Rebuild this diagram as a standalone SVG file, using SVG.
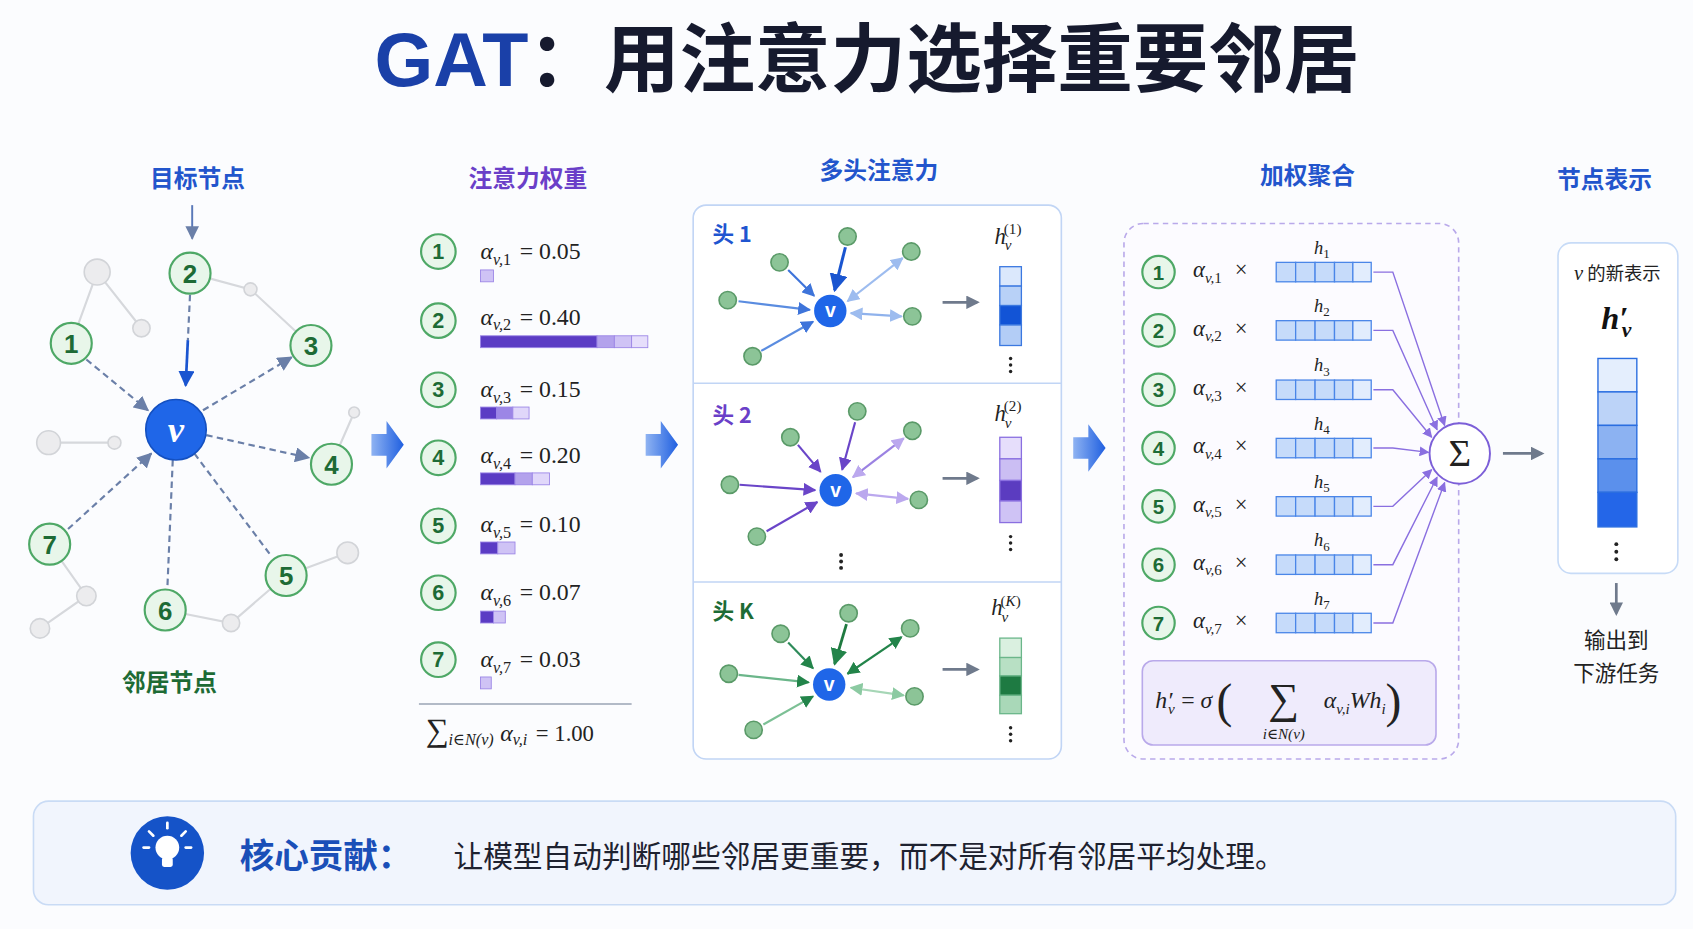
<svg xmlns="http://www.w3.org/2000/svg" width="1693" height="929" viewBox="0 0 1693 929">
<defs>
<style>
.cn{font-family:"Noto Sans CJK SC","Noto Sans",sans-serif}
.hd{font-family:"Noto Sans CJK SC",sans-serif;font-weight:700;font-size:22px;text-anchor:middle}
.m{font-family:"Liberation Serif","DejaVu Serif",serif;font-style:italic}
.r{font-family:"Liberation Serif","DejaVu Serif",serif;font-style:normal}
.gn{fill:#e8f6ea;stroke:#4ea866;stroke-width:2}
.gt{font-family:"Liberation Sans",Arial,sans-serif;font-weight:700;fill:#1d6b35;text-anchor:middle}
.gray{fill:#ececee;stroke:#d2d4d8;stroke-width:1.5}
.ge{stroke:#d6d8dc;stroke-width:2;fill:none}
.de{stroke:#6a7fa8;stroke-width:2;stroke-dasharray:6 4;fill:none}
.hn{fill:#8cc497;stroke:#5a9a68;stroke-width:1.5}
.pl{stroke:#8a6fe0;stroke-width:1.3;fill:none}
.vc{stroke:#4a86e8;stroke-width:1.2}
</style>
<marker id="ag" viewBox="0 0 10 10" refX="9" refY="5" markerWidth="7" markerHeight="7" orient="auto-start-reverse"><path d="M0,0L10,5L0,10z" fill="#6a7fa8"/></marker>
<marker id="ab" viewBox="0 0 10 10" refX="9" refY="5" markerWidth="6" markerHeight="6" orient="auto-start-reverse"><path d="M0,0L10,5L0,10z" fill="#1a55d0"/></marker>
<marker id="a1" viewBox="0 0 10 10" refX="9" refY="5" markerWidth="6" markerHeight="6" orient="auto-start-reverse"><path d="M0,0L10,5L0,10z" fill="#3e74da"/></marker>
<marker id="a1l" viewBox="0 0 10 10" refX="9" refY="5" markerWidth="6" markerHeight="6" orient="auto-start-reverse"><path d="M0,0L10,5L0,10z" fill="#9dbcef"/></marker>
<marker id="a2" viewBox="0 0 10 10" refX="9" refY="5" markerWidth="6" markerHeight="6" orient="auto-start-reverse"><path d="M0,0L10,5L0,10z" fill="#6a45c8"/></marker>
<marker id="a2l" viewBox="0 0 10 10" refX="9" refY="5" markerWidth="6" markerHeight="6" orient="auto-start-reverse"><path d="M0,0L10,5L0,10z" fill="#bba8ee"/></marker>
<marker id="a3" viewBox="0 0 10 10" refX="9" refY="5" markerWidth="6" markerHeight="6" orient="auto-start-reverse"><path d="M0,0L10,5L0,10z" fill="#23844a"/></marker>
<marker id="a3l" viewBox="0 0 10 10" refX="9" refY="5" markerWidth="6" markerHeight="6" orient="auto-start-reverse"><path d="M0,0L10,5L0,10z" fill="#8ccaa2"/></marker>
<marker id="ap" viewBox="0 0 10 10" refX="9" refY="5" markerWidth="7" markerHeight="7" orient="auto"><path d="M0,0L10,5L0,10z" fill="#8a6fe0"/></marker>
<marker id="gy" viewBox="0 0 10 10" refX="8" refY="5" markerWidth="5" markerHeight="5" orient="auto"><path d="M0,0L10,5L0,10z" fill="#6f7a8c"/></marker>
<linearGradient id="bg" x1="0" x2="1"><stop offset="0" stop-color="#8fb3f2"/><stop offset="1" stop-color="#1f5fe0"/></linearGradient>
</defs>
<rect width="1693" height="929" fill="#fbfcfe"/>
<g transform="scale(1.0797)">
<g id="title"><text x="803" y="80" text-anchor="middle" font-size="70" font-weight="700" class="cn" fill="#161a2e"><tspan fill="#1a40a8" font-family="'Liberation Sans',sans-serif">GAT</tspan>：用注意力选择重要邻居</text></g>
<g id="headers">
<text x="183" y="173" class="hd" fill="#2255cc">目标节点</text>
<text x="489" y="173" class="hd" fill="#6a3fc8">注意力权重</text>
<text x="814" y="166" class="hd" fill="#2255cc">多头注意力</text>
<text x="1211" y="170" class="hd" fill="#2255cc">加权聚合</text>
<text x="1486" y="174" class="hd" fill="#2255cc">节点表示</text>
</g>
<g id="panels">
<rect x="642" y="190" width="341" height="513" rx="12" fill="#fff" stroke="#c1d5f5" stroke-width="1.5"/>
<line x1="642" y1="355" x2="983" y2="355" stroke="#c1d5f5" stroke-width="1.5"/>
<line x1="642" y1="539" x2="983" y2="539" stroke="#c1d5f5" stroke-width="1.5"/>
<rect x="1041" y="207" width="310" height="496" rx="18" fill="#fcfbff" stroke="#b9a9ea" stroke-width="1.5" stroke-dasharray="5 4"/>
</g>
<g id="connectors">
<path class="ge" d="M66,318L90,252L131,304M176,253L232,268L288,320M45,410L106,410M307,430L328,382M265,533L322,512M153,565L214,577L265,533M46,504L80,552L37,582"/>
<line class="de" x1="80" y1="333" x2="137" y2="380" marker-end="url(#ag)"/>
<line class="de" x1="188" y1="380" x2="270" y2="331" marker-end="url(#ag)"/>
<line class="de" x1="191" y1="403" x2="286" y2="424" marker-end="url(#ag)"/>
<line class="de" x1="63" y1="490" x2="140" y2="420"/>
<line class="de" x1="136" y1="424" x2="140" y2="420" marker-end="url(#ag)"/>
<line class="de" x1="180" y1="420" x2="252" y2="516"/>
<line class="de" x1="160" y1="426" x2="155" y2="545"/>
<line class="de" x1="176" y1="273" x2="174" y2="315"/>
<line x1="174" y1="315" x2="172" y2="357" stroke="#1a55d0" stroke-width="2.5" marker-end="url(#ab)"/>
<line x1="178" y1="190" x2="178" y2="221" stroke="#5a78b8" stroke-width="1.8" marker-end="url(#ag)"/>
<path d="M344,402h14v-12l16,22l-16,22v-12h-14z" fill="url(#bg)"/>
<path d="M598,402h14v-12l16,22l-16,22v-12h-14z" fill="url(#bg)"/>
<path d="M994,405h14v-12l16,22l-16,22v-12h-14z" fill="url(#bg)"/>
<line x1="873" y1="280" x2="905" y2="280" stroke="#6f7a8c" stroke-width="2.5" marker-end="url(#gy)"/>
<line x1="873" y1="443" x2="905" y2="443" stroke="#6f7a8c" stroke-width="2.5" marker-end="url(#gy)"/>
<line x1="873" y1="620" x2="905" y2="620" stroke="#6f7a8c" stroke-width="2.5" marker-end="url(#gy)"/>
<line x1="1392" y1="420" x2="1428" y2="420" stroke="#6f7a8c" stroke-width="2.5" marker-end="url(#gy)"/>
<line x1="1497" y1="540" x2="1497" y2="568" stroke="#6f7a8c" stroke-width="2.5" marker-end="url(#gy)"/>
<g stroke-width="2">
<line x1="684" y1="279" x2="750" y2="287" stroke="#5a8ce0" marker-end="url(#a1)"/>
<line x1="730" y1="250" x2="754" y2="274" stroke="#3e74da" marker-end="url(#a1)"/>
<line x1="783" y1="229" x2="773" y2="269" stroke="#1a55d0" stroke-width="2.8" marker-end="url(#ab)"/>
<line x1="785" y1="279" x2="836" y2="239" stroke="#9dbcef" marker-start="url(#a1l)" marker-end="url(#a1l)"/>
<line x1="788" y1="290" x2="835" y2="293" stroke="#8fb2ec" marker-start="url(#a1l)" marker-end="url(#a1l)"/>
<line x1="705" y1="325" x2="753" y2="298" stroke="#5a8ce0" marker-end="url(#a1)"/>
<line x1="685" y1="449" x2="755" y2="454" stroke="#6a45c8" marker-end="url(#a2)"/>
<line x1="739" y1="412" x2="760" y2="437" stroke="#6a45c8" marker-end="url(#a2)"/>
<line x1="792" y1="391" x2="780" y2="435" stroke="#6a45c8" marker-end="url(#a2)"/>
<line x1="790" y1="442" x2="837" y2="406" stroke="#9b82e2" marker-start="url(#a2l)" marker-end="url(#a2l)"/>
<line x1="793" y1="457" x2="841" y2="462" stroke="#bba8ee" marker-start="url(#a2l)" marker-end="url(#a2l)"/>
<line x1="710" y1="492" x2="757" y2="465" stroke="#6a45c8" marker-end="url(#a2)"/>
<line x1="684" y1="625" x2="749" y2="632" stroke="#6bb68a" marker-end="url(#a3)"/>
<line x1="730" y1="595" x2="753" y2="619" stroke="#2e8b5a" marker-end="url(#a3)"/>
<line x1="784" y1="578" x2="773" y2="615" stroke="#1f7a40" stroke-width="2.6" marker-end="url(#a3)"/>
<line x1="785" y1="624" x2="835" y2="590" stroke="#23844a" marker-start="url(#a3)" marker-end="url(#a3)"/>
<line x1="788" y1="637" x2="837" y2="644" stroke="#a6d6b6" marker-start="url(#a3l)" marker-end="url(#a3l)"/>
<line x1="707" y1="671" x2="753" y2="645" stroke="#7cc095" marker-end="url(#a3)"/>
</g>
<path class="pl" d="M1272,252H1290L1338,394" marker-end="url(#ap)"/>
<path class="pl" d="M1272,306H1290L1331,398" marker-end="url(#ap)"/>
<path class="pl" d="M1272,361H1290L1326,405" marker-end="url(#ap)"/>
<path class="pl" d="M1272,415H1290L1323,419" marker-end="url(#ap)"/>
<path class="pl" d="M1272,469H1290L1326,435" marker-end="url(#ap)"/>
<path class="pl" d="M1272,523H1290L1331,442" marker-end="url(#ap)"/>
<path class="pl" d="M1272,577H1290L1338,447" marker-end="url(#ap)"/>
</g>
<g id="left-graph">
<g class="gray"><circle cx="90" cy="252" r="12"/><circle cx="131" cy="304" r="8"/><circle cx="232" cy="268" r="6"/><circle cx="45" cy="410" r="11"/><circle cx="106" cy="410" r="6"/><circle cx="328" cy="382" r="5"/><circle cx="322" cy="512" r="10"/><circle cx="214" cy="577" r="8"/><circle cx="80" cy="552" r="9"/><circle cx="37" cy="582" r="9"/></g>
<g id="n1"><circle class="gn" cx="66" cy="318" r="19"/><text class="gt" x="66" y="327" font-size="24">1</text></g>
<g id="n2"><circle class="gn" cx="176" cy="253" r="19"/><text class="gt" x="176" y="262" font-size="24">2</text></g>
<g id="n3"><circle class="gn" cx="288" cy="320" r="19"/><text class="gt" x="288" y="329" font-size="24">3</text></g>
<g id="n4"><circle class="gn" cx="307" cy="430" r="19"/><text class="gt" x="307" y="439" font-size="24">4</text></g>
<g id="n5"><circle class="gn" cx="265" cy="533" r="19"/><text class="gt" x="265" y="542" font-size="24">5</text></g>
<g id="n6"><circle class="gn" cx="153" cy="565" r="19"/><text class="gt" x="153" y="574" font-size="24">6</text></g>
<g id="n7"><circle class="gn" cx="46" cy="504" r="19"/><text class="gt" x="46" y="513" font-size="24">7</text></g>
<g id="nv"><circle cx="163" cy="398" r="28" fill="#1f66e8" stroke="#1450c0" stroke-width="1.5"/><text x="163" y="409" text-anchor="middle" class="m" font-weight="700" font-size="34" fill="#fff">v</text></g>
<text x="157" y="640" class="hd" fill="#1d6b35">邻居节点</text>
</g>
<g id="weights">
<g class="gt" font-size="20">
<circle class="gn" cx="406" cy="233" r="16"/><text x="406" y="240">1</text>
<circle class="gn" cx="406" cy="297" r="16"/><text x="406" y="304">2</text>
<circle class="gn" cx="406" cy="361" r="16"/><text x="406" y="368">3</text>
<circle class="gn" cx="406" cy="424" r="16"/><text x="406" y="431">4</text>
<circle class="gn" cx="406" cy="487" r="16"/><text x="406" y="494">5</text>
<circle class="gn" cx="406" cy="549" r="16"/><text x="406" y="556">6</text>
<circle class="gn" cx="406" cy="611" r="16"/><text x="406" y="618">7</text>
</g>
<g font-size="22" fill="#222">
<text x="445" y="240" class="m">α<tspan font-size="15" dy="5">v,</tspan><tspan class="r" font-size="15">1</tspan><tspan class="r" dy="-5" dx="8">= 0.05</tspan></text>
<text x="445" y="301" class="m">α<tspan font-size="15" dy="5">v,</tspan><tspan class="r" font-size="15">2</tspan><tspan class="r" dy="-5" dx="8">= 0.40</tspan></text>
<text x="445" y="368" class="m">α<tspan font-size="15" dy="5">v,</tspan><tspan class="r" font-size="15">3</tspan><tspan class="r" dy="-5" dx="8">= 0.15</tspan></text>
<text x="445" y="429" class="m">α<tspan font-size="15" dy="5">v,</tspan><tspan class="r" font-size="15">4</tspan><tspan class="r" dy="-5" dx="8">= 0.20</tspan></text>
<text x="445" y="493" class="m">α<tspan font-size="15" dy="5">v,</tspan><tspan class="r" font-size="15">5</tspan><tspan class="r" dy="-5" dx="8">= 0.10</tspan></text>
<text x="445" y="556" class="m">α<tspan font-size="15" dy="5">v,</tspan><tspan class="r" font-size="15">6</tspan><tspan class="r" dy="-5" dx="8">= 0.07</tspan></text>
<text x="445" y="618" class="m">α<tspan font-size="15" dy="5">v,</tspan><tspan class="r" font-size="15">7</tspan><tspan class="r" dy="-5" dx="8">= 0.03</tspan></text>
</g>
<g stroke="#9a84e6" stroke-width="0.8">
<rect x="445" y="250" width="12" height="11" fill="#cfc3f5"/>
<rect x="445" y="311" width="108" height="11" fill="#5b3cc4"/><rect x="553" y="311" width="16" height="11" fill="#b3a2ec"/><rect x="569" y="311" width="16" height="11" fill="#cfc3f5"/><rect x="585" y="311" width="15" height="11" fill="#e6defb"/>
<rect x="445" y="377" width="15" height="11" fill="#5b3cc4"/><rect x="460" y="377" width="15" height="11" fill="#9c86e6"/><rect x="475" y="377" width="15" height="11" fill="#e0d7fa"/>
<rect x="445" y="438" width="32" height="11" fill="#5b3cc4"/><rect x="477" y="438" width="16" height="11" fill="#b3a2ec"/><rect x="493" y="438" width="16" height="11" fill="#e0d7fa"/>
<rect x="445" y="502" width="16" height="11" fill="#5b3cc4"/><rect x="461" y="502" width="16" height="11" fill="#cfc3f5"/>
<rect x="445" y="566" width="12" height="11" fill="#5b3cc4"/><rect x="457" y="566" width="11" height="11" fill="#cfc3f5"/>
<rect x="445" y="627" width="10" height="11" fill="#cfc3f5"/>
</g>
<line x1="388" y1="652" x2="585" y2="652" stroke="#9aa4b5" stroke-width="1.5"/>
<text x="394" y="686" class="r" font-size="30" fill="#222">∑<tspan class="m" font-size="15" dy="4">i∈N(v)</tspan><tspan class="m" font-size="22" dx="6" dy="-4">α</tspan><tspan class="m" font-size="15" dy="4">v,i</tspan><tspan font-size="21" dx="8" dy="-4">= 1.00</tspan></text>
</g>
<g id="multihead">
<text x="660" y="224" class="cn" font-size="20" font-weight="700" fill="#1f55d0">头 1</text>
<text x="660" y="392" class="cn" font-size="20" font-weight="700" fill="#6a3fc8">头 2</text>
<text x="660" y="573" class="cn" font-size="20" font-weight="700" fill="#1d6b35">头 K</text>
<g class="hn">
<circle cx="674" cy="278" r="8"/><circle cx="722" cy="243" r="8"/><circle cx="785" cy="219" r="8"/><circle cx="844" cy="233" r="8"/><circle cx="845" cy="293" r="8"/><circle cx="697" cy="330" r="8"/>
<circle cx="676" cy="449" r="8"/><circle cx="732" cy="405" r="8"/><circle cx="794" cy="381" r="8"/><circle cx="845" cy="399" r="8"/><circle cx="851" cy="463" r="8"/><circle cx="701" cy="497" r="8"/>
<circle cx="675" cy="624" r="8"/><circle cx="723" cy="587" r="8"/><circle cx="786" cy="568" r="8"/><circle cx="843" cy="582" r="8"/><circle cx="847" cy="645" r="8"/><circle cx="698" cy="676" r="8"/>
</g>
<g fill="#1f66e8"><circle cx="769" cy="288" r="15"/><circle cx="774" cy="454" r="15"/><circle cx="768" cy="634" r="15"/></g>
<g fill="#fff" font-family="'Liberation Sans',sans-serif" font-weight="700" font-size="18" text-anchor="middle"><text x="769" y="294">v</text><text x="774" y="460">v</text><text x="768" y="640">v</text></g>
<g font-size="21" fill="#222">
<text x="921" y="226" class="m">h<tspan font-size="14" dy="6" dx="-1">v</tspan><tspan class="r" font-size="14" dy="-15" dx="-7">(1)</tspan></text>
<text x="921" y="390" class="m">h<tspan font-size="14" dy="6" dx="-1">v</tspan><tspan class="r" font-size="14" dy="-15" dx="-7">(2)</tspan></text>
<text x="918" y="570" class="m">h<tspan font-size="14" dy="6" dx="-1">v</tspan><tspan class="r" font-size="14" dy="-15" dx="-7">(<tspan class="m">K</tspan>)</tspan></text>
</g>
<g stroke="#3b78e0" stroke-width="1.2">
<rect x="926" y="247" width="20" height="18" fill="#dbe8fc"/><rect x="926" y="265" width="20" height="18" fill="#b8d1f7"/><rect x="926" y="283" width="20" height="18" fill="#1254d6"/><rect x="926" y="301" width="20" height="19" fill="#b3cdf6"/>
</g>
<g stroke="#8a6fe0" stroke-width="1.2">
<rect x="926" y="405" width="20" height="20" fill="#e6defb"/><rect x="926" y="425" width="20" height="20" fill="#cbbef3"/><rect x="926" y="445" width="20" height="19" fill="#5b3cc0"/><rect x="926" y="464" width="20" height="20" fill="#cfc3f5"/>
</g>
<g stroke="#6bb68a" stroke-width="1.2">
<rect x="926" y="591" width="20" height="18" fill="#daf0e0"/><rect x="926" y="609" width="20" height="17" fill="#b8e0c4"/><rect x="926" y="626" width="20" height="18" fill="#1e7a42"/><rect x="926" y="644" width="20" height="17" fill="#a9d8b8"/>
</g>
<g fill="#222"><circle cx="936" cy="332" r="1.6"/><circle cx="936" cy="338" r="1.6"/><circle cx="936" cy="344" r="1.6"/>
<circle cx="936" cy="497" r="1.6"/><circle cx="936" cy="503" r="1.6"/><circle cx="936" cy="509" r="1.6"/>
<circle cx="779" cy="514" r="1.8"/><circle cx="779" cy="520" r="1.8"/><circle cx="779" cy="526" r="1.8"/>
<circle cx="936" cy="674" r="1.6"/><circle cx="936" cy="680" r="1.6"/><circle cx="936" cy="686" r="1.6"/></g>
</g>
<g id="aggregation">
<g class="gt" font-size="19">
<circle class="gn" cx="1073" cy="252" r="15"/><text x="1073" y="259">1</text>
<circle class="gn" cx="1073" cy="306" r="15"/><text x="1073" y="313">2</text>
<circle class="gn" cx="1073" cy="361" r="15"/><text x="1073" y="368">3</text>
<circle class="gn" cx="1073" cy="415" r="15"/><text x="1073" y="422">4</text>
<circle class="gn" cx="1073" cy="469" r="15"/><text x="1073" y="476">5</text>
<circle class="gn" cx="1073" cy="523" r="15"/><text x="1073" y="530">6</text>
<circle class="gn" cx="1073" cy="577" r="15"/><text x="1073" y="584">7</text>
</g>
<g font-size="21" fill="#222">
<text x="1105" y="257" class="m">α<tspan font-size="14" dy="5">v,</tspan><tspan class="r" font-size="14">1</tspan><tspan class="r" dy="-5" dx="12">×</tspan></text>
<text x="1105" y="311" class="m">α<tspan font-size="14" dy="5">v,</tspan><tspan class="r" font-size="14">2</tspan><tspan class="r" dy="-5" dx="12">×</tspan></text>
<text x="1105" y="366" class="m">α<tspan font-size="14" dy="5">v,</tspan><tspan class="r" font-size="14">3</tspan><tspan class="r" dy="-5" dx="12">×</tspan></text>
<text x="1105" y="420" class="m">α<tspan font-size="14" dy="5">v,</tspan><tspan class="r" font-size="14">4</tspan><tspan class="r" dy="-5" dx="12">×</tspan></text>
<text x="1105" y="474" class="m">α<tspan font-size="14" dy="5">v,</tspan><tspan class="r" font-size="14">5</tspan><tspan class="r" dy="-5" dx="12">×</tspan></text>
<text x="1105" y="528" class="m">α<tspan font-size="14" dy="5">v,</tspan><tspan class="r" font-size="14">6</tspan><tspan class="r" dy="-5" dx="12">×</tspan></text>
<text x="1105" y="582" class="m">α<tspan font-size="14" dy="5">v,</tspan><tspan class="r" font-size="14">7</tspan><tspan class="r" dy="-5" dx="12">×</tspan></text>
</g>
<g font-size="17" fill="#222" class="m">
<text x="1217" y="235">h<tspan class="r" font-size="12" dy="4">1</tspan></text>
<text x="1217" y="289">h<tspan class="r" font-size="12" dy="4">2</tspan></text>
<text x="1217" y="344">h<tspan class="r" font-size="12" dy="4">3</tspan></text>
<text x="1217" y="398">h<tspan class="r" font-size="12" dy="4">4</tspan></text>
<text x="1217" y="452">h<tspan class="r" font-size="12" dy="4">5</tspan></text>
<text x="1217" y="506">h<tspan class="r" font-size="12" dy="4">6</tspan></text>
<text x="1217" y="560">h<tspan class="r" font-size="12" dy="4">7</tspan></text>
</g>
<g class="vc" fill="#c6dbfa">
<g id="vec"><rect x="1182" y="243" width="18" height="18"/><rect x="1200" y="243" width="18" height="18"/><rect x="1218" y="243" width="18" height="18"/><rect x="1236" y="243" width="17" height="18"/><rect x="1253" y="243" width="17" height="18" fill="#e2edfd"/></g>
<use href="#vec" y="54"/><use href="#vec" y="109"/><use href="#vec" y="163"/><use href="#vec" y="217"/><use href="#vec" y="271"/><use href="#vec" y="325"/>
</g>
<circle cx="1352" cy="420" r="28" fill="#fff" stroke="#7c5fd8" stroke-width="1.8"/>
<text x="1352" y="432" text-anchor="middle" class="r" font-size="36" fill="#222">Σ</text>
<rect x="1058" y="612" width="272" height="78" rx="10" fill="#efebfc" stroke="#b9a9ea" stroke-width="1.5"/>
<text x="1070" y="656" font-size="22" fill="#222" class="m">h′<tspan font-size="14" dy="5" dx="-4">v</tspan><tspan class="r" dy="-5" dx="6">= </tspan>σ<tspan class="r" font-size="44" dy="8" dx="4">(</tspan></text>
<text x="1189" y="660" text-anchor="middle" class="r" font-size="40" fill="#222">∑</text>
<text x="1189" y="684" text-anchor="middle" class="m" font-size="14" fill="#222">i∈N(v)</text>
<text x="1226" y="656" font-size="22" fill="#222" class="m">α<tspan font-size="14" dy="5">v,i</tspan><tspan dy="-5">Wh</tspan><tspan font-size="14" dy="5">i</tspan><tspan class="r" font-size="44" dy="3">)</tspan></text>
</g>
<g id="output">
<rect x="1443" y="225" width="111" height="306" rx="12" fill="#fff" stroke="#c7dbf7" stroke-width="1.5"/>
<text x="1498" y="259" text-anchor="middle" font-size="17" fill="#222" class="cn"><tspan class="m" font-size="19">v</tspan> 的新表示</text>
<text x="1497" y="305" text-anchor="middle" font-size="30" font-weight="700" fill="#111" class="m">h′<tspan font-size="20" dy="7" dx="-6">v</tspan></text>
<g stroke="#2b6ee0" stroke-width="1.3">
<rect x="1480" y="332" width="36" height="31" fill="#e4eefd"/><rect x="1480" y="363" width="36" height="31" fill="#bcd3f8"/><rect x="1480" y="394" width="36" height="31" fill="#8cb2f2"/><rect x="1480" y="425" width="36" height="31" fill="#5b90ec"/><rect x="1480" y="456" width="36" height="32" fill="#2466e8"/>
</g>
<g fill="#222"><circle cx="1497" cy="504" r="1.8"/><circle cx="1497" cy="511" r="1.8"/><circle cx="1497" cy="518" r="1.8"/></g>
<text x="1497" y="600" text-anchor="middle" font-size="20" fill="#222" class="cn">输出到</text>
<text x="1497" y="631" text-anchor="middle" font-size="20" fill="#222" class="cn">下游任务</text>
</g>
<g id="banner">
<rect x="31" y="742" width="1521" height="96" rx="14" fill="#f1f5fd" stroke="#c9dbf5" stroke-width="1.5"/>
<circle cx="155" cy="790" r="34" fill="#1553c8"/>
<circle cx="155" cy="785" r="11" fill="#fff"/>
<rect x="150" y="794" width="10" height="9" rx="2" fill="#fff"/>
<g stroke="#fff" stroke-width="2.5" stroke-linecap="round"><line x1="155" y1="762" x2="155" y2="767"/><line x1="138" y1="770" x2="142" y2="774"/><line x1="172" y1="770" x2="168" y2="774"/><line x1="133" y1="785" x2="138" y2="785"/><line x1="177" y1="785" x2="172" y2="785"/></g>
<text x="222" y="804" class="cn" font-size="32" font-weight="700" fill="#1a4fb8">核心贡献：</text>
<text x="420" y="803" class="cn" font-size="27.5" fill="#1e2230">让模型自动判断哪些邻居更重要，而不是对所有邻居平均处理。</text>
</g>
</g>
</svg>
